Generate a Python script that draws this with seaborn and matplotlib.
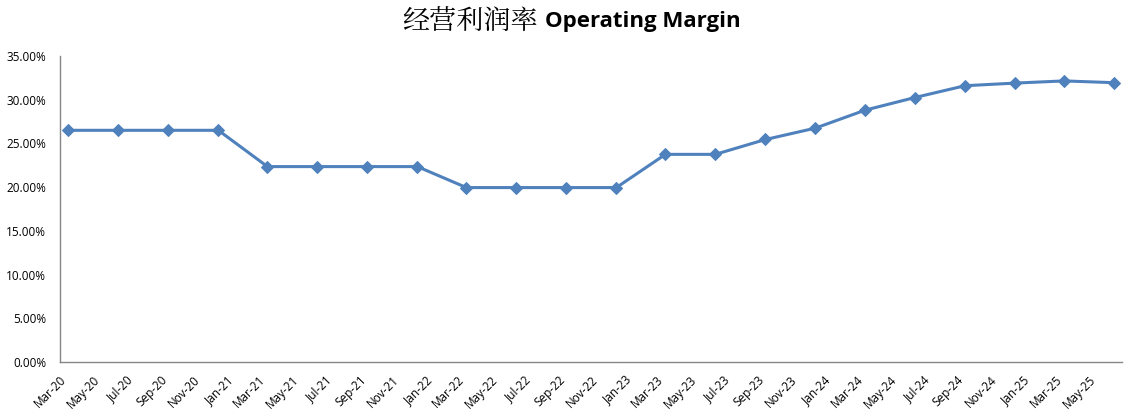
import numpy as np
import pandas as pd
import matplotlib
matplotlib.use('Agg')
import matplotlib.pyplot as plt
from matplotlib.ticker import PercentFormatter
import seaborn as sns

# Data (quarterly operating margin, %)
quarters = ['2020-03', '2020-06', '2020-09', '2020-12',
            '2021-03', '2021-06', '2021-09', '2021-12',
            '2022-03', '2022-06', '2022-09', '2022-12',
            '2023-03', '2023-06', '2023-09', '2023-12',
            '2024-03', '2024-06', '2024-09', '2024-12',
            '2025-03', '2025-06']
margin = [26.5, 26.5, 26.5, 26.5,
          22.35, 22.35, 22.35, 22.35,
          19.95, 19.95, 19.95, 19.95,
          23.75, 23.75, 25.45, 26.75,
          28.8, 30.25, 31.6, 31.9,
          32.15, 31.95]
title_cn = '经营利润率'
title_en = 'Operating Margin'

sns.set_style('white')
plt.rcParams['font.family'] = ['Open Sans', 'DejaVu Sans']
plt.rcParams['text.color'] = 'black'

# Excel date axis: each point sits in the middle of its month slot
per = pd.PeriodIndex(quarters, freq='M')
mid = per.start_time + (per.end_time - per.start_time) / 2
df = pd.DataFrame({'date': mid, 'margin': margin})

fig = plt.figure(figsize=(11.35, 4.19), dpi=100)
ax = fig.add_axes([60 / 1135, 1 - 362 / 419, 1062 / 1135, 306 / 419])

sns.lineplot(data=df, x='date', y='margin', ax=ax, color='#4F81BD',
             linewidth=2.2, marker='D', markersize=6.5,
             markeredgecolor='#4F81BD', markerfacecolor='#4F81BD')

ax.set_ylim(0, 35)
ax.set_yticks(np.arange(0, 35.1, 5))
ax.yaxis.set_major_formatter(PercentFormatter(decimals=2))
ax.set_xlim(pd.Timestamp('2020-03-01'), pd.Timestamp('2025-07-01'))
ticks = pd.date_range('2020-03-01', '2025-07-01', freq='2MS')
ax.set_xticks(ticks)
labels = [t.strftime('%b-%y') for t in ticks]
labels[-1] = ''
ax.set_xticklabels(labels, rotation=45, ha='right', rotation_mode='anchor')

ax.set_xlabel('')
ax.set_ylabel('')
for s in ['top', 'right']:
    ax.spines[s].set_visible(False)
for s in ['left', 'bottom']:
    ax.spines[s].set_color('#868686')
    ax.spines[s].set_linewidth(1)
ax.tick_params(axis='both', which='major', direction='out', length=4,
               width=1, color='#868686', labelsize=8.5, labelcolor='black')
ax.tick_params(axis='y', pad=6)
ax.tick_params(axis='x', pad=4)

fig.text(538 / 1135, 1 - 22 / 419, title_cn, ha='right', va='center',
         fontsize=19.5, color='black',
         family=['Noto Serif CJK SC', 'Noto Sans CJK SC'])
fig.text(545 / 1135, 1 - 22 / 419, title_en, ha='left', va='center',
         fontsize=16, fontweight='bold', color='black')

fig.savefig('out.png', dpi=100)
